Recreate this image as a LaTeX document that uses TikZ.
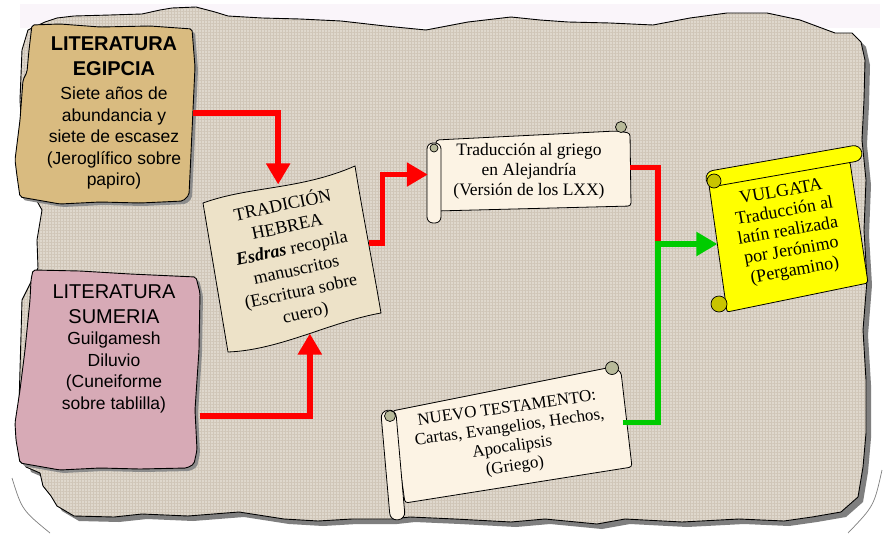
\documentclass[tikz,border=0pt]{standalone}
\usepackage{fontspec}
\setmainfont{Liberation Serif}
\setsansfont{Liberation Sans}
\usetikzlibrary{arrows.meta,patterns.meta}
\definecolor{parch}{HTML}{DFD8CD}
\definecolor{parchgrid}{HTML}{D0C6B8}
\definecolor{topstrip}{HTML}{FAF5FA}
\definecolor{egfill}{HTML}{D9BB80}
\definecolor{sufill}{HTML}{D7AAB6}
\definecolor{hefill}{HTML}{EDE2C8}
\definecolor{scrollfill}{HTML}{FCF3E4}
\definecolor{curlgray}{HTML}{B8BA9A}
\definecolor{vuyellow}{HTML}{FFFF00}
\definecolor{vucurl}{HTML}{C8C400}
\definecolor{arrred}{HTML}{FF0000}
\definecolor{arrgreen}{HTML}{00CC00}
\definecolor{shadowgray}{HTML}{7F7F7F}
\newcommand\myfs[2]{\fontsize{#1}{#2}\selectfont}
\newcommand\parchshape[1]{\path[#1] (28,30) -- (45,22) -- (57,18) -- (74,16) -- (110,15) -- (142,14) -- (160,10) -- (172,8) -- (196,7) -- (215,12) -- (228,16) -- (262,18) -- (300,19) -- (341,21) -- (385,26) -- (426,30) -- (468,22) -- (511,17) -- (540,20) -- (568,22) -- (610,23) -- (653,25) -- (690,18) -- (727,13) -- (767,13) -- (800,20) -- (835,33) -- (852,33) -- (861,42) -- (865,60) -- (864,100) -- (862,140) -- (866,180) -- (864,230) -- (867,280) -- (863,330) -- (866,380) -- (866,433) -- (863,467) -- (858,497) -- (841,512) -- (812,517) -- (784,521) -- (739,519) -- (682,522) -- (625,519) -- (597,524) -- (545,519) -- (511,522) -- (455,519) -- (410,517) -- (392,519) -- (352,519) -- (318,521) -- (284,519) -- (239,512) -- (188,516) -- (142,514) -- (114,517) -- (74,516) -- (57,506) -- (51,496) -- (43,486) -- (40,473) -- (26,467) -- (18,440) -- (22,300) -- (38,268) -- (37,240) -- (42,210) -- (25,180) -- (20,100) -- (22,50) -- cycle;}
\newcommand\egshape[1]{\path[#1] (32,25) -- (60,24) -- (100,27) -- (150,26) -- (192,29) -- (195,67) -- (193,110) -- (191,153) -- (189,195) -- (183,201) -- (140,203) -- (100,202) -- (60,204) -- (20,197) -- (17,176) -- (15,160) -- (20,120) -- (23,80) -- (27,72) -- (29,50) -- cycle;}
\newcommand\sushape[1]{\path[#1] (33,270) -- (80,271) -- (130,274) -- (196,277) -- (200,293) -- (199,350) -- (195,410) -- (197,450) -- (194,464) -- (187,468) -- (140,469) -- (100,468) -- (60,470) -- (20,463) -- (16,440) -- (15,423) -- (20,390) -- (25,350) -- (28,320) -- (30,300) -- (31,280) -- cycle;}
\begin{document}
\begin{tikzpicture}[x=1pt,y=-1pt,
  edgeline/.style={draw=black, line width=0.9pt},
  scrollbody/.style={fill=scrollfill, draw=black, line width=0.8pt, rounded corners=3pt},
  curlgrey/.style={fill=curlgray, draw=black, line width=0.7pt},
  curlyel/.style={fill=vucurl, draw=black, line width=0.7pt},
  boxarea/.style={inner sep=0pt},
  sanstxt/.style={inner sep=0pt, align=center, font=\sffamily\myfs{17.5}{21.5}},
  serifbox/.style={inner sep=0pt, align=center},
  conn/.style={line width=5.5pt, line join=miter},
  tip/.style={-{Triangle[width=23pt,length=21pt]}},
  redc/.style={conn, draw=arrred},
  greenc/.style={conn, draw=arrgreen}]
\useasboundingbox (0,0) rectangle (886,533);
\fill[white] (0,0) rectangle (886,533);
\fill[topstrip] (20,4) rectangle (880,28);
\draw[shadowgray, line width=0.7pt] (12,478) .. controls (22,510) .. (50,533);
\draw[shadowgray, line width=0.7pt] (882,470) .. controls (874,506) .. (848,533);
% parchment background
\parchshape{fill=shadowgray, shift={(5,5)}}
\parchshape{fill=parch}
\parchshape{pattern={Lines[angle=0,distance=3pt,line width=0.35pt]}, pattern color=parchgrid}
\parchshape{pattern={Lines[angle=90,distance=3pt,line width=0.35pt]}, pattern color=parchgrid}
\parchshape{edgeline}
% Egipcia
\egshape{fill=black!45, shift={(3,3)}, rounded corners=2pt}
\egshape{fill=egfill, edgeline, rounded corners=2pt}
\node[boxarea, minimum width=176pt, minimum height=178pt] (eg) at (105,113) {};
\node[sanstxt] (egtxt) at (114,113) {{\bfseries\myfs{20}{21.5}LITERATURA}\\[3.5pt]{\bfseries\myfs{20}{21.5}EGIPCIA}\\[2.5pt]Siete años de\\abundancia y\\siete de escasez\\(Jeroglífico sobre\\papiro)};
% Sumeria
\sushape{fill=black!45, shift={(3,3)}, rounded corners=2pt}
\sushape{fill=sufill, edgeline, rounded corners=2pt}
\node[boxarea, minimum width=185pt, minimum height=198pt] (su) at (107,369) {};
\node[sanstxt] (sutxt) at (114,349) {{\myfs{20}{21.5}LITERATURA}\\[3pt]{\myfs{20}{21.5}SUMERIA}\\Guilgamesh\\Diluvio\\(Cuneiforme\\sobre tablilla)};
% Tradicion hebrea
\path[fill=hefill, draw=black, line width=0.8pt] (203,203) .. controls (250,186) and (300,190) .. (355,166) .. controls (362,210) and (372,260) .. (381,313) .. controls (330,322) and (280,350) .. (228,352) -- cycle;
\node[serifbox, rotate=12, minimum width=152pt, minimum height=152pt, font=\myfs{18}{22}] (he) at (294,259) {TRADICIÓN\\HEBREA\\\textbf{\textit{Esdras}} recopila\\manuscritos\\(Escritura sobre\\cuero)};
% Traduccion al griego
\path[scrollbody] (436,140) -- (616,131) -- (630,133) -- (631,206) -- (436,211) -- cycle;
\draw[fill=scrollfill, line width=0.8pt, rounded corners=6pt] (427,143) rectangle (441,223);
\path[curlgrey] (621,127) circle (5.5);
\path[curlgrey] (434,148) circle (4);
\node[serifbox, minimum width=202pt, minimum height=79pt, font=\myfs{17.5}{20}] (gr) at (529,171) {Traducción al griego\\en Alejandría\\(Versión de los LXX)};
% Nuevo Testamento
\path[scrollbody] (392,411) -- (612,367) -- (621,372) -- (632,467) -- (405,503) -- cycle;
\node[fill=scrollfill, draw=black, line width=0.8pt, rounded corners=7pt, minimum width=15pt, minimum height=110pt, inner sep=0pt, rotate=5] (ntroll) at (393,465) {};
\path[curlgrey] (612,368) circle (6.5);
\path[curlgrey] (390,416) circle (5.5);
\node[serifbox, rotate=8, minimum width=225pt, minimum height=98pt, font=\myfs{17}{19.5}] (nt) at (511,438) {NUEVO TESTAMENTO:\\Cartas, Evangelios, Hechos,\\Apocalipsis\\(Griego)};
% Vulgata
\path[fill=vuyellow, draw=black, line width=0.8pt, rounded corners=2pt] (709,185) -- (850,162) -- (868,283) -- (727,312) -- cycle;
\node[fill=vuyellow, draw=black, line width=0.8pt, rounded corners=8pt, minimum width=158pt, minimum height=16pt, inner sep=0pt, rotate=10] (vuroll) at (784,166) {};
\path[curlyel] (714,181) circle (7);
\path[curlyel] (719,304) circle (8);
\node[serifbox, rotate=10, minimum width=143pt, minimum height=128pt, font=\myfs{18}{20}] (vu) at (788,232) {VULGATA\\Traducción al\\latín realizada\\por Jerónimo\\(Pergamino)};
% connectors
\coordinate (junc) at (658,244);
\draw[redc, tip] (eg.east) -| (he.north);
\draw[redc, tip] (su.-27) -| (he.south);
\draw[redc, tip] (he.east) -- ++(14,0) |- (gr.182);
\draw[redc] (gr.2) -| (junc);
\draw[greenc, tip] (nt.east) -| (junc) -- (junc -| vu.west);
\end{tikzpicture}
\end{document}
